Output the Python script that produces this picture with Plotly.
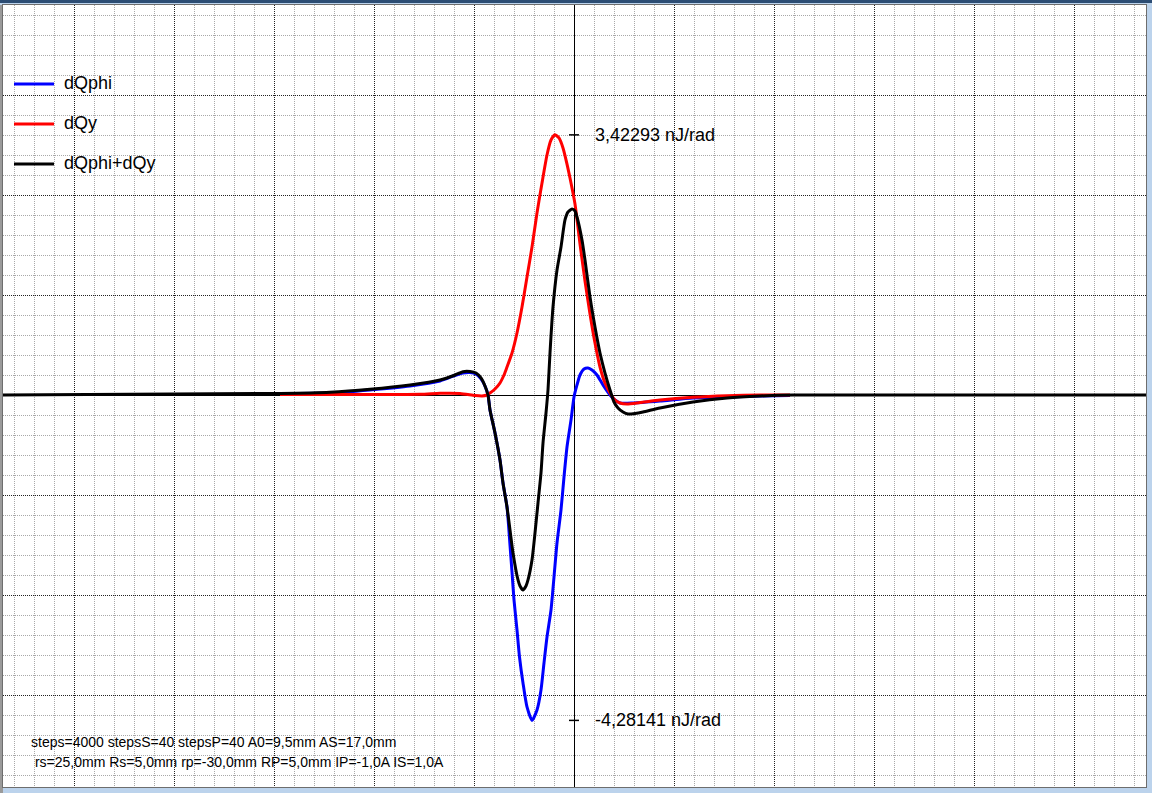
import plotly.graph_objects as go

# ---- data (position in grid units, value in nJ/rad) ----
x_phi = [-29.4, -24.4, -20.4, -16.4, -13.4, -11.9, -11.1, -10.4, -9.8, -9.3, -8.9, -8.6, -8.4, -7.9,
         -7.4, -7.1, -6.7, -6.4, -6.2, -6.0, -5.7, -5.45, -5.1, -4.7, -4.2, -3.7, -3.3, -3.0, -2.7,
         -2.3, -2.0, -1.7, -1.3, -1.0, -0.7, -0.3, 0.0, 0.3, 0.6, 1.0, 1.4, 1.8, 2.3, 2.9, 3.6, 4.1,
         4.6, 5.9, 8.6, 11.9, 15.3, 18.6, 21.6]
dQphi = [0.020, 0.026, 0.066, 0.118, 0.184, 0.257, 0.289, 0.296, 0.276, 0.211, 0.118, 0.0, -0.197, -0.500,
         -0.855, -1.158, -1.474, -1.974, -2.329, -2.697, -3.092, -3.447, -3.789, -4.105, -4.28141, -4.145,
         -3.882, -3.526, -3.184, -2.829, -2.395, -1.947, -1.513, -1.079, -0.684, -0.329, -0.026, 0.132,
         0.263, 0.342, 0.355, 0.329, 0.263, 0.132, 0.0, -0.066, -0.105, -0.105, -0.079, -0.039, -0.026,
         -0.013, -0.007]

x_y = [-29.4, -15.4, -13.4, -11.4, -9.9, -9.2, -8.7, -8.4, -7.9, -7.4, -7.0, -6.7, -6.2, -5.7, -5.2,
       -4.7, -4.2, -3.7, -3.2, -2.7, -2.3, -1.9, -1.5, -1.1, -0.7, -0.4, 0.1, 0.6, 1.1, 1.6, 2.1, 2.6,
       3.1, 3.6, 4.1, 4.6, 5.3, 6.6, 8.6, 11.9, 15.3, 18.6, 21.6]
dQy = [0.007, 0.009, 0.022, 0.020, -0.007, -0.013, 0.0, 0.026, 0.079, 0.158, 0.263, 0.368, 0.553, 0.816,
       1.158, 1.553, 1.947, 2.395, 2.789, 3.158, 3.355, 3.42293, 3.382, 3.250, 3.039, 2.855, 2.513,
       1.987, 1.500, 1.066, 0.684, 0.368, 0.158, 0.026, -0.066, -0.105, -0.118, -0.099, -0.066, -0.030,
       -0.009, 0.0, 0.0]

x_sum = [-57.1, -29.4, -24.4, -20.4, -16.4, -13.4, -11.9, -11.1, -10.4, -9.8, -9.3, -8.9, -8.6, -8.4,
         -7.9, -7.4, -7.1, -6.7, -6.4, -6.1, -5.6, -5.4, -5.1, -4.8, -4.6, -4.2, -3.9, -3.6, -3.3, -3.1,
         -2.8, -2.6, -2.4, -2.1, -1.7, -1.3, -0.9, -0.6, -0.2, 0.1, 0.3, 0.8, 1.1, 1.6, 2.1, 2.6, 3.1,
         3.6, 4.0, 4.4, 4.9, 5.4, 6.1, 6.9, 8.6, 11.9, 15.3, 18.6, 21.9, 57.2]
dQsum = [0.0, 0.020, 0.036, 0.075, 0.132, 0.197, 0.263, 0.307, 0.309, 0.289, 0.224, 0.118, 0.0, -0.197,
         -0.500, -0.855, -1.158, -1.474, -1.776, -2.079, -2.434, -2.513, -2.566, -2.513, -2.434, -2.171,
         -1.816, -1.421, -1.026, -0.632, -0.237, 0.066, 0.553, 1.158, 1.645, 1.947, 2.303, 2.408, 2.447,
         2.421, 2.342, 2.039, 1.776, 1.289, 0.895, 0.553, 0.289, 0.066, -0.092, -0.171, -0.224, -0.250,
         -0.243, -0.224, -0.171, -0.092, -0.039, -0.013, 0.0, 0.0]

series_names = ["dQphi", "dQy", "dQphi+dQy"]
series_colors = ["#0000ff", "#ff0000", "#000000"]
max_label = "3,42293 nJ/rad"
min_label = "-4,28141 nJ/rad"
info_lines = ["steps=4000 stepsS=40 stepsP=40 A0=9,5mm AS=17,0mm",
              " rs=25,0mm Rs=5,0mm rp=-30,0mm RP=5,0mm IP=-1,0A IS=1,0A"]

# ---- figure ----
W, H = 1152, 793
ML, MR, MT, MB = 3, 6, 5, 6
PW, PH = W - ML - MR, H - MT - MB
PX_PER_X = 10.0      # px per x unit
PX_PER_Y = 76.0      # px per nJ/rad
x0_px, y0_px = 574, 395
xr = [(ML - x0_px) / PX_PER_X, (W - MR - x0_px) / PX_PER_X]
yr = [(y0_px - (H - MB)) / PX_PER_Y, (y0_px - MT) / PX_PER_Y]


def px_to_paper_x(px):
    return (px - ML) / PW


def px_to_paper_y(py):
    return (H - MB - py) / PH


FONT = "Liberation Sans, Arial"

fig = go.Figure()
for xs, ys, name, col in [(x_phi, dQphi, series_names[0], series_colors[0]),
                          (x_y, dQy, series_names[1], series_colors[1]),
                          (x_sum, dQsum, series_names[2], series_colors[2])]:
    fig.add_trace(go.Scatter(x=xs, y=ys, name=name, mode="lines",
                             line=dict(color=col, width=3, shape="spline", smoothing=0.6),
                             showlegend=False))

grid_major = dict(gridcolor="#202020", griddash="1px,1px", gridwidth=1)
grid_minor = dict(showgrid=True, gridcolor="#a8a8a8", griddash="1px,1px", gridwidth=1, ticks="")

fig.update_xaxes(range=xr, tick0=0, dtick=100 / PX_PER_X, showgrid=True, **grid_major,
                 minor=dict(dtick=20 / PX_PER_X, tick0=0, **grid_minor),
                 showticklabels=False, ticks="", zeroline=True, zerolinecolor="#000000",
                 zerolinewidth=1, showline=True, linecolor="#6e6e6e", linewidth=1, mirror=True,
                 fixedrange=True)
fig.update_yaxes(range=yr, tick0=0, dtick=100 / PX_PER_Y, showgrid=True, **grid_major,
                 minor=dict(dtick=20 / PX_PER_Y, tick0=0, **grid_minor),
                 showticklabels=False, ticks="", zeroline=True, zerolinecolor="#000000",
                 zerolinewidth=1, showline=True, linecolor="#6e6e6e", linewidth=1, mirror=True,
                 fixedrange=True)

# max / min markers with labels
ymax = max(dQy)
ymin = min(dQphi)
for yv, txt in [(ymax, max_label), (ymin, min_label)]:
    fig.add_shape(type="line", x0=-0.5, x1=0.5, y0=yv, y1=yv, xref="x", yref="y",
                  line=dict(color="#000000", width=1.5))
    fig.add_annotation(x=1.9, y=yv, xref="x", yref="y", text=txt, showarrow=False,
                       xanchor="left", yanchor="middle",
                       font=dict(family=FONT, size=18, color="#000000"))

# legend (drawn like the original program: short line + label)
for i, (name, col) in enumerate(zip(series_names, series_colors)):
    ly = 84 + 40 * i
    fig.add_shape(type="line", xref="paper", yref="paper",
                  x0=px_to_paper_x(14), x1=px_to_paper_x(54),
                  y0=px_to_paper_y(ly), y1=px_to_paper_y(ly),
                  line=dict(color=col, width=3))
    fig.add_annotation(x=px_to_paper_x(62), y=px_to_paper_y(ly - 1), xref="paper", yref="paper",
                       text=name, showarrow=False, xanchor="left", yanchor="middle",
                       font=dict(family=FONT, size=18, color="#000000"))

# parameter text at the bottom
for i, line in enumerate(info_lines):
    txt = line.replace(" ", "&nbsp;", 1) if line.startswith(" ") else line
    fig.add_annotation(x=px_to_paper_x(29), y=px_to_paper_y(742 + 20 * i),
                       xref="paper", yref="paper", text=txt,
                       showarrow=False, xanchor="left", yanchor="middle",
                       font=dict(family=FONT, size=14, color="#000000"))

# window frame pieces
fig.add_shape(type="rect", xref="paper", yref="paper", x0=-0.01, x1=1.01,
              y0=1 + (MT - 3) / PH, y1=1 + MT / PH + 0.01, fillcolor="#2c4d74", line_width=0, layer="below")
fig.add_shape(type="rect", xref="paper", yref="paper", x0=-0.01, x1=0,
              y0=-0.01, y1=1.0, fillcolor="#9a9a9a", line_width=0, layer="below")

fig.update_layout(
    width=W, height=H,
    margin=dict(l=ML, r=MR, t=MT, b=MB, pad=0),
    paper_bgcolor="#bcd3ec", plot_bgcolor="#ffffff",
    showlegend=False,
    font=dict(family=FONT),
)

fig.write_html("out.html")
